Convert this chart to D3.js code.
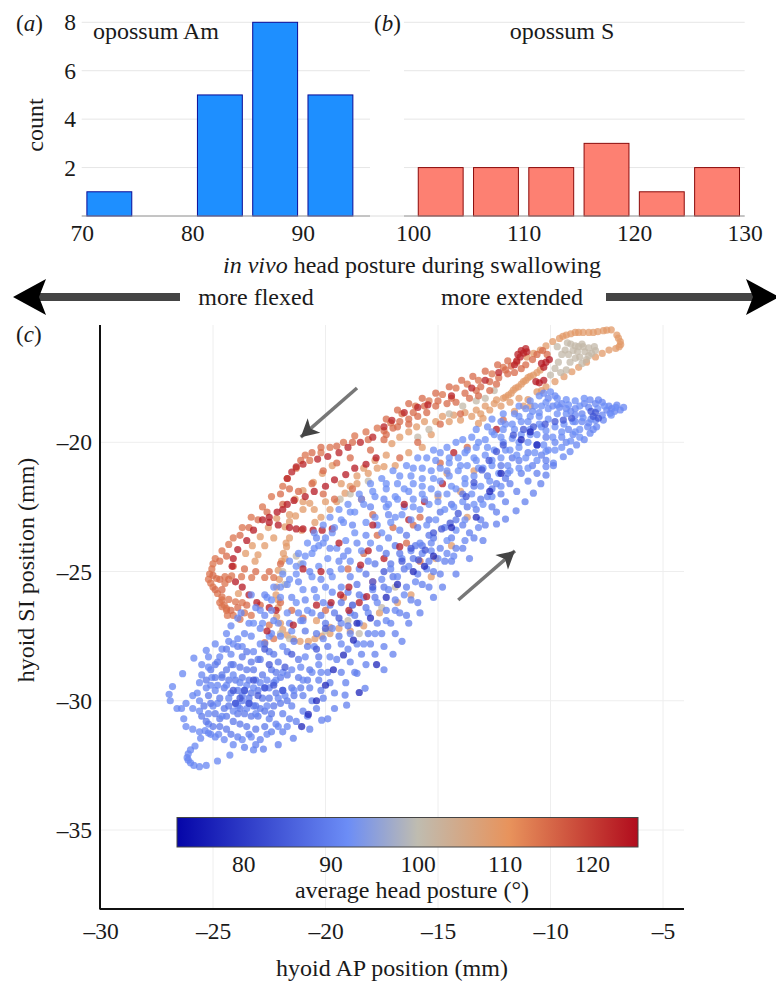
<!DOCTYPE html>
<html lang="en">
<head>
<meta charset="utf-8">
<title>Hyoid position and head posture</title>
<script src="https://d3js.org/d3.v7.min.js"></script>
<style>
  html, body { margin: 0; padding: 0; background: #fff; }
  svg { display: block; }
  text { font-family: "Liberation Serif", serif; fill: #1a1a1a; }
</style>
</head>
<body>
<svg id="vis" width="776" height="983"></svg>
<script>
// histogram data
var binsAm = [72.5, 77.5, 82.5, 87.5, 92.5];
var countsAm = [1, 0, 5, 8, 5];
var binsS = [102.5, 107.5, 112.5, 117.5, 122.5, 127.5];
var countsS = [2, 2, 2, 3, 1, 2];
var countTicks = [2, 4, 6, 8];
var amTicks = [70, 80, 90];
var sTicks = [100, 110, 120, 130];

// colour bar
var postureStops = [72.4, 92, 100, 110.5, 125.3];
var postureColors = ["#0505a8", "#6c8df6", "#bfbcb0", "#e8935c", "#b10c1d"];
var postureTicks = [80, 90, 100, 110, 120];

// hyoid traces, [AP, SI] in mm
var crimsonUpper = [[-11.1,-16.37],[-11.2,-16.55],[-11.3,-16.45],[-11.35,-16.7],[-11.45,-16.6],[-11.5,-16.85],[-11.05,-16.5],[-11.6,-17],[-15.45,-18.55],[-15.9,-18.65],[-16.5,-18.85],[-17.05,-19.15],[-17.4,-19.4],[-17.9,-19.8],[-18.45,-20],[-19,-20.2],[-19.4,-20.4],[-19.9,-20.55],[-20.35,-20.65],[-21,-20.85],[-21.3,-20.95],[-21.5,-21.15],[-21.7,-21.4],[-12.3,-17.3],[-12.9,-17.6],[-13.5,-17.9],[-14.4,-18.2]];
var crimsonInner = [[-17.75,-20.6],[-18.2,-20.85],[-18.7,-21],[-19.1,-21.25],[-19.6,-21.45],[-20,-21.7],[-20.5,-21.9],[-20.9,-22.1],[-21.4,-22.25],[-21.7,-22.4],[-21.9,-22.6],[-22.15,-22.7],[-22.5,-22.9],[-22.8,-23],[-22.5,-23.1],[-22.1,-23.2],[-21.6,-23.3],[-21.3,-23.35],[-21,-23.35],[-20.55,-23.4],[-20.15,-23.4],[-19.7,-23.35],[-23.2,-23.4],[-23.5,-23.8],[-23.9,-24.15],[-24.1,-24.5],[-24.15,-24.8],[-24,-25.4],[-23.7,-25.6],[-23.4,-25.9],[-23.05,-26.2],[-22.5,-26.4],[-22.2,-26.5],[-10.2,-16.9],[-10.05,-16.8],[-10.5,-17.7],[-10.65,-17.65],[-10.3,-17.6],[-10.4,-16.95],[-10.3,-17.1],[-14.3,-20.4],[-12.4,-19.5],[-15.6,-22.3],[-14.8,-21.6],[-16.3,-23],[-17.4,-24.5],[-17.9,-25.4]];
var coralOuter = [[-12.1,-17.1],[-12.6,-17.35],[-13.2,-17.6],[-13.7,-17.75],[-14.2,-17.9],[-14.8,-18.15],[-15.4,-18.4],[-16,-18.6],[-16.6,-18.9],[-17.1,-19.25],[-17.7,-19.45],[-18.2,-19.6],[-18.7,-19.75],[-19.2,-20],[-19.8,-20.2],[-20.2,-20.4],[-20.7,-20.7],[-20.9,-20.5],[-21.3,-21],[-21.7,-21.4],[-21.9,-21.7],[-22.4,-22.1],[-22.8,-22.5],[-23.3,-22.9],[-23.7,-23.3],[-24.1,-23.7],[-24.3,-23.95],[-24.6,-24.2],[-24.9,-24.5],[-25,-24.7],[-25.05,-24.9],[-25.15,-25.1],[-25.2,-25.3],[-25.1,-25.45],[-25,-25.6],[-24.8,-25.85],[-24.6,-26.1],[-24.5,-26.3],[-24.4,-26.5],[-24.1,-26.7],[-23.8,-26.85],[-24.84,-25.27],[-24.47,-25.2],[-24.17,-25.17],[-23.73,-25.2],[-23.28,-25.23],[-22.7,-25.23],[-22.3,-25.23],[-24.47,-25.46],[-24.6,-25.98],[-24.3,-26.08],[-24,-26.17],[-23.7,-26.2],[-24.6,-26.36],[-24.4,-26.43],[-24.36,-26.7],[-24.7,-26.2],[-23.3,-26.7],[-22.5,-27.07],[-22.3,-27.6],[-22.7,-27.75],[-23.6,-26.6]];
var coralInner = [[-11.5,-16.9],[-11.75,-17.05],[-12,-17.2],[-11.9,-17.35],[-11.6,-17.3],[-11.3,-17.15],[-11.1,-17],[-10.8,-16.8],[-10.6,-16.6],[-10.35,-16.45],[-10.15,-16.6],[-12.3,-17.5],[-12.7,-17.65],[-13.1,-17.85],[-12.4,-17.75],[-12.7,-18],[-13.2,-18.2],[-13.6,-18.3],[-14.2,-18.45],[-14.6,-18.5],[-15.1,-18.6],[-15.5,-18.85],[-15.9,-19],[-16.3,-19.1],[-16.7,-19.2],[-17,-19.45],[-17.3,-19.7],[-16.3,-19.3],[-15.9,-20],[-16.7,-20.6],[-17.4,-19.9],[-18,-20.3],[-18.9,-20.6],[-19.5,-20.8],[-20.1,-21.1],[-20.6,-21.6],[-21.2,-21.9],[-21.9,-22.4],[-20.1,-22],[-19.6,-22.2],[-18.8,-21.8],[-18.4,-22.2],[-17.9,-22.8],[-17,-23.3],[-16.4,-23.9],[-15.8,-24.6],[-14.9,-20.8],[-15.8,-22.9],[-16.1,-23.2],[-13.7,-20.2],[-12.1,-19.14],[-14,-18.9],[-14.9,-19.3],[-17.7,-23.6],[-18.3,-24.3],[-19,-24.9],[-17.3,-19.1],[-16.8,-18.75],[-16.3,-18.5],[-15.7,-18.3],[-15.1,-18.1],[-14.5,-17.85],[-13.95,-17.6],[-13.45,-17.45],[-12.9,-17.25],[-12.35,-17],[-11.9,-16.85],[-13.3,-18],[-13.8,-18.1],[-14.4,-18.3],[-15,-18.4],[-15.6,-18.6],[-16.1,-18.85],[-16.8,-19.4],[-17.4,-19.55],[-18.1,-19.9],[-18.8,-20],[-19.5,-20.15],[-20.2,-20.2],[-20.6,-20.4],[-21.1,-20.7],[-21.6,-21.8],[-22,-22],[-22.6,-22.7],[-23,-23],[-23.4,-23.3],[-23.8,-23.6],[-24.4,-24.4],[-24.7,-24.6],[-25,-25.15],[-24.9,-25.7],[-24.7,-25.3],[-24.6,-25.7],[-24.3,-25.3],[-24.2,-26.5],[-23.9,-26.4],[-23.5,-26.3],[-24.1,-24.8],[-23.6,-24.9],[-23.1,-25],[-22.5,-25],[-22,-24.7],[-22.9,-26.3],[-22,-26.2],[-21.5,-26.5],[-21,-26.8],[-20,-26.5],[-19.2,-26]];
var peach = [[-6.9,-16.1],[-6.88,-16.22],[-7.05,-15.85],[-6.98,-15.97],[-7.3,-15.65],[-7.5,-15.66],[-7.65,-15.68],[-7.9,-15.72],[-8.1,-15.75],[-8.3,-15.75],[-8.55,-15.75],[-8.75,-15.75],[-8.9,-15.75],[-9.1,-15.8],[-9.3,-15.85],[-9.45,-15.9],[-9.6,-15.98],[-9.9,-16.1],[-10.2,-16.27],[-10.45,-16.43],[-10.75,-16.56],[-11.05,-16.7],[-6.95,-16.3],[-7.1,-16.37],[-7.4,-16.43],[-7.7,-16.56],[-8,-16.7],[-8.4,-16.9],[-8.75,-17.1],[-9.05,-17.27],[-9.4,-17.46],[-9.8,-17.65],[-10.2,-17.85],[-10.6,-18.05],[-11,-18.35],[-11.2,-18.6],[-11.6,-18.8],[-12.7,-18.75],[-13.1,-18.9],[-13.5,-19],[-14,-19.14],[-14.5,-19.2],[-15.1,-19.2],[-15.6,-19.2],[-15.95,-19.4],[-16.3,-19.6],[-16.7,-19.8],[-17.05,-20.05],[-17.4,-20.94],[-17.7,-21],[-18.1,-21.2],[-18.6,-21.3],[-18.9,-21.7],[-19.13,-21.97],[-19.5,-22.3],[-19.8,-22.6],[-20.2,-22.9],[-20.47,-23.1],[-21.06,-23.4],[-21.6,-23.7],[-21.73,-24.04],[-21.8,-24.5],[-21.87,-24.3],[-22.1,-24.95],[-22.17,-25.6],[-22.1,-26.1],[-22.17,-26.75],[-21.7,-27.46],[-21.43,-27.6],[-21.13,-27.7],[-20.76,-27.7],[-20.47,-27.6],[-20.17,-27.5],[-19.8,-27.4],[-19.8,-27.16],[-19.4,-27.2],[-18.9,-27.3],[-10.46,-17.2],[-10.6,-17.3],[-10.76,-17.4],[-10.9,-17.45],[-11,-17.5],[-11.1,-17.6],[-11.2,-17.65],[-11.3,-17.75],[-11.43,-17.85],[-11.55,-17.9],[-11.65,-17.98],[-11.75,-18.1],[-11.87,-18.17],[-12,-18.25],[-12.1,-18.3],[-12.4,-18.36],[-13,-19.07],[-13.2,-19.27],[-19.7,-20.9],[-20.14,-21.2],[-20.54,-21.55],[-21,-21.87],[-21.35,-22.2],[-21,-22.3],[-20.7,-22.36],[-21,-22.6],[-21.33,-22.85],[-21.6,-22.8],[-21.6,-23.07],[-21.8,-23.27],[-22.17,-22.94],[-22.54,-23.3],[-22.9,-23.65],[-23.25,-24],[-23.55,-24.3],[-22.3,-23.7],[-22.7,-24],[-23,-24.35],[-23.13,-24.6],[-23.87,-25.85],[-20.4,-26.9],[-18.3,-27.1],[-16.8,-26.2],[-15.3,-25.2],[-16.2,-25.9],[-17.6,-26.6],[-14.4,-24],[-15.1,-24.5],[-13.7,-22.9],[-14.6,-21.2],[-14,-21.9],[-13.4,-21.1],[-15,-22.1],[-21.75,-23.9],[-21.95,-24.6],[-22.05,-25.3],[-22.2,-25.9],[-22.1,-26.4],[-22,-27],[-21.9,-27.25],[-12.2,-18.6],[-12.5,-18.5],[-12.9,-18.6],[-13.3,-18.75],[-13.8,-18.85],[-14.3,-18.95],[-14.8,-19],[-11.4,-18.3],[-11.8,-18.45],[-10.9,-18.6],[-10.4,-18],[-15.3,-19.7],[-15.7,-20.2],[-16.3,-20.4],[-16.9,-20.9],[-17.3,-20.5],[-17.8,-20.7],[-18.3,-21],[-18.6,-21.6],[-19.3,-21.6],[-20,-22.3],[-20.5,-22.6]];
var tan = [[-9.1,-16.2],[-8.9,-16.27],[-9.25,-16.15],[-8.75,-16.3],[-9.35,-16.43],[-9.5,-16.6],[-9.65,-16.9],[-9.8,-17.14],[-10,-17.4],[-9.13,-16.9],[-8.9,-16.75],[-8.7,-16.7],[-8.47,-16.5],[-8.17,-16.56],[-8.4,-16.8],[-8.6,-16.95],[-8.3,-16.35],[-8,-16.45],[-8.55,-16.3],[-9.3,-17.2],[-12.5,-18],[-12.9,-18.3],[-13.3,-18.4],[-13.9,-18.6],[-14.5,-18.9],[-15.4,-19.5],[-15.9,-19.8],[-18.1,-21.5],[-18.9,-22],[-19.35,-22.2],[-21.3,-24.4],[-21.1,-24.7],[-21.9,-25],[-21.8,-25.5],[-22,-27.4],[-21.6,-27.6],[-18.5,-27.4],[-19,-26.9],[-17.5,-26.4],[-16.9,-25.6],[-20,-27.3],[-9.7,-16.3],[-9.2,-16.6],[-8.8,-16.5],[-8.6,-16.2],[-9,-16.45],[-8.3,-16.65],[-8.05,-16.3],[-9.55,-17.3]];
var blueEnds = [[-23.2,-31.9],[-24.25,-32.1],[-24.8,-32.33],[-25.3,-32.5],[-25.6,-32.55],[-25.85,-32.5],[-26,-32.4],[-26.1,-32.3],[-26.15,-32.2],[-26.1,-32.05],[-26,-31.9],[-25.8,-31.75],[-25.55,-31.45],[-25.35,-31.15],[-25.2,-30.9],[-26.9,-30],[-26.95,-29.75],[-26.6,-30.3],[-26.4,-30.3],[-26.3,-30.7],[-26.2,-31],[-25.9,-31.1],[-25.6,-31.2],[-25.2,-31.25],[-24.75,-31.3],[-26.8,-29.45],[-26.35,-28.95],[-25.85,-28.35],[-25.3,-28.05],[-25.05,-29.1],[-24.9,-29.6],[-25.9,-29.8],[-26.2,-30.1],[-25.9,-30.3],[-25.2,-30.5],[-25,-30.2],[-25.3,-29.5],[-25.5,-28.6],[-25.2,-28.3],[-24.9,-27.8],[-24.4,-27.4],[-24.2,-27.1],[-23.9,-26.8],[-24.6,-28],[-24.3,-27.7],[-23.9,-27.6],[-23.6,-27.4],[-23.3,-27.5],[-23.75,-26.6],[-23.4,-27],[-22.9,-27.2],[-6.75,-18.65],[-7.05,-18.56],[-7.28,-18.7],[-7.5,-18.75],[-7.87,-18.36],[-8.24,-18.36],[-8.5,-18.5],[-8.9,-18.7],[-7.35,-18.88],[-7.65,-19.14],[-7.95,-19.4],[-8.24,-19.65],[-8.5,-19.9],[-8.84,-20.1],[-9.13,-20.36],[-9.43,-20.56],[-9.87,-20.8],[-10.2,-20.94],[-6.9,-18.75],[-7.15,-18.8],[-7.4,-18.6],[-7.7,-18.45],[-8,-18.5],[-8.3,-18.65],[-8.6,-18.9],[-8.9,-19.2],[-9.2,-19.5],[-9.5,-19.8],[-9.8,-20],[-10.1,-20.3],[-9.6,-18.65],[-9.9,-18.6],[-10.1,-18.3],[-10.3,-18.1],[-9.8,-18.2],[-9.5,-18.5],[-9.3,-18.7],[-9.1,-18.8],[-8.9,-18.95],[-8.6,-19.2],[-8.35,-19.4],[-8.1,-19.5],[-9,-19.7],[-9.3,-20],[-7.7,-18.95],[-8,-19.15],[-8.3,-19.25]];
var blueLower = [[-23.6,-31.8],[-23.1,-31.7],[-22.76,-31.87],[-22.1,-31.7],[-21.43,-31.45],[-20.7,-31.1],[-20.17,-30.75],[-19.9,-30.7],[-19.6,-30.3],[-19.06,-30.17],[-19.13,-29.78],[-18.24,-29.52],[-18.6,-28.94],[-17.4,-28.8],[-17,-28.2],[-16.6,-27.7],[-16.3,-27],[-15.8,-26.6],[-15.2,-26],[-14.8,-25.6],[-14.2,-25.1],[-13.6,-24.5],[-13,-23.8],[-12.4,-23.16],[-12,-22.97],[-11.53,-22.65],[-11.13,-22.3],[-10.76,-21.97],[-10.43,-21.6],[-10.2,-21.27],[-9.87,-20.9],[-23.9,-31.4],[-23.4,-31.3],[-22.9,-31.5],[-22.4,-31.2],[-21.9,-31.2],[-21.3,-30.8],[-20.8,-30.6],[-20.4,-30.3],[-20.1,-29.9],[-19.6,-29.7],[-19.1,-29.3],[-18.7,-28.9],[-18.2,-28.6],[-17.8,-28.2],[-17.4,-27.9],[-16.9,-27.4],[-16.4,-26.7],[-15.9,-26.2],[-15.4,-25.6],[-14.9,-25.1],[-14.4,-24.6],[-13.9,-24.1],[-13.4,-23.7],[-12.9,-23.2],[-12.4,-22.7],[-12,-22.3],[-11.5,-21.9],[-11,-21.5],[-10.6,-21.2],[-10.2,-20.7],[-21.6,-30.7],[-21,-30.4],[-20.6,-30],[-20.2,-29.6],[-19.8,-29.3],[-19.3,-28.9],[-18.9,-28.5],[-18.4,-28.2],[-18,-27.8],[-17.5,-27.4],[-17.1,-27],[-16.7,-26.6],[-16.2,-26.1],[-15.7,-25.5],[-15.2,-25],[-14.7,-24.6],[-14.2,-24.1],[-13.6,-23.5],[-13.1,-23],[-12.6,-22.5],[-12.2,-22],[-11.8,-21.6],[-11.3,-21.2],[-10.8,-20.9],[-10.4,-20.5],[-22.2,-30.9],[-22.5,-30.7],[-21.9,-30.5],[-21.5,-30.2],[-21,-29.8],[-20.7,-29.5],[-20.3,-29.2],[-19.9,-28.9],[-19.5,-28.4],[-19,-28],[-18.6,-27.8],[-18.1,-27.4],[-17.7,-27],[-17.3,-26.5],[-16.9,-26.1],[-16.4,-25.6],[-15.9,-25.1],[-15.4,-24.6],[-14.9,-24.1],[-14.4,-23.7],[-13.9,-23.2],[-13.3,-22.6],[-12.8,-22.1],[-12.4,-21.6],[-11.9,-21.2],[-11.4,-20.7],[-11,-20.4],[-10.6,-20.1],[-10.2,-19.8]];
var blueUpper = [[-22.9,-26.5],[-22.6,-26],[-22.3,-25.6],[-21.9,-25.1],[-21.6,-24.6],[-21.2,-24.3],[-20.8,-23.9],[-20.5,-23.5],[-20.1,-23.2],[-19.8,-22.9],[-19.4,-22.6],[-19,-22.4],[-18.5,-22],[-18,-21.6],[-17.5,-21.4],[-17,-21.1],[-16.4,-20.9],[-15.9,-20.6],[-15.2,-20.3],[-14.6,-20.2],[-13.9,-19.9],[-13.3,-19.5],[-12.6,-19.1],[-12.1,-18.9],[-11.4,-18.6],[-10.9,-18.4],[-10.5,-18.2],[-23.2,-27],[-22.8,-27],[-22.4,-26.5],[-22,-26],[-21.7,-25.5],[-21.3,-25.1],[-21,-24.7],[-20.6,-24.3],[-20.3,-24],[-20,-23.7],[-19.6,-23.3],[-19.2,-23.1],[-18.7,-22.7],[-18.3,-22.4],[-17.8,-22.1],[-17.3,-21.8],[-16.8,-21.6],[-16.2,-21.3],[-15.7,-21],[-15.1,-20.7],[-14.5,-20.6],[-13.8,-20.4],[-13.2,-20],[-12.6,-19.6],[-12,-19.3],[-11.4,-19],[-10.8,-18.8],[-10.4,-18.6],[-22.5,-27.5],[-22.1,-27],[-21.7,-26.6],[-21.3,-26.2],[-21,-25.7],[-20.6,-25.2],[-20.3,-24.8],[-19.9,-24.5],[-19.5,-24.1],[-19.1,-23.8],[-18.7,-23.5],[-18.2,-23.1],[-17.8,-22.9],[-17.3,-22.5],[-16.8,-22.2],[-16.3,-21.9],[-15.7,-21.7],[-15.2,-21.4],[-14.6,-21.1],[-14,-20.9],[-13.4,-20.6],[-12.8,-20.2],[-12.2,-19.8],[-11.6,-19.5],[-11,-19.2],[-10.5,-19],[-21.9,-27.9],[-21.5,-27.3],[-21.1,-26.9],[-20.8,-26.5],[-20.4,-26],[-20,-25.6],[-19.7,-25.2],[-19.3,-24.9],[-18.9,-24.6],[-18.4,-24.2],[-18,-23.9],[-17.5,-23.5],[-17.1,-23.1],[-16.6,-22.8],[-16.1,-22.5],[-15.6,-22.2],[-15,-22],[-14.4,-21.7],[-13.8,-21.4],[-13.2,-21],[-12.6,-20.7],[-12,-20.3],[-11.4,-20],[-10.9,-19.7],[-10.4,-19.4]];
var blueMiddle = [[-21.2,-28.4],[-20.8,-27.9],[-20.4,-27.4],[-20,-27],[-19.6,-26.6],[-19.3,-26.2],[-19,-25.8],[-18.6,-25.5],[-18.2,-25.1],[-17.8,-24.7],[-17.3,-24.3],[-16.9,-24],[-16.4,-23.6],[-15.9,-23.3],[-15.4,-23],[-14.9,-22.7],[-14.4,-22.4],[-13.9,-22],[-13.4,-21.7],[-12.8,-21.3],[-12.2,-20.9],[-11.7,-20.6],[-20.7,-28.8],[-20.3,-28.3],[-19.9,-27.9],[-19.4,-27.5],[-19,-27.1],[-18.7,-26.7],[-18.2,-26.4],[-17.8,-26],[-17.4,-25.6],[-17,-25.2],[-16.5,-24.9],[-16.1,-24.5],[-15.7,-24],[-15.2,-23.7],[-14.7,-23.3],[-14.2,-23],[-13.7,-22.5],[-13.1,-22.2],[-12.6,-21.8],[-12,-21.4],[-18.5,-25.9],[-17.9,-25.4],[-17.1,-24.7],[-16.7,-24.3],[-16,-24],[-15.4,-23.6],[-19.8,-26.3],[-20.2,-26.7],[-20.9,-27.3],[-21.4,-27.7],[-21.7,-28.1],[-22.1,-28.5],[-22.5,-28.1],[-22.9,-28.4],[-23.3,-28.5],[-23.7,-28.3],[-24.2,-28.6],[-24.6,-29],[-24.8,-28.5]];
var blueCloud = [[-25,-31],[-24.7,-31],[-24.4,-31.1],[-24.2,-31.3],[-24.7,-30.7],[-24.9,-30.5],[-25.1,-30.1],[-24.4,-30.6],[-24.1,-30.8],[-23.8,-30.9],[-23.5,-31],[-23.1,-31.1],[-22.7,-31],[-22.4,-30.5],[-23.9,-30.5],[-23.6,-30.5],[-23.3,-30.6],[-23,-30.6],[-22.7,-30.4],[-22.3,-30.2],[-22,-30.1],[-21.7,-30],[-21.4,-29.8],[-21.1,-29.5],[-20.8,-29.2],[-24.3,-30.2],[-24,-30.1],[-23.7,-30],[-23.4,-30.1],[-23.1,-30.2],[-22.8,-29.9],[-22.5,-29.9],[-22.2,-29.7],[-21.9,-29.6],[-21.5,-29.5],[-21.2,-29.1],[-24.7,-29.9],[-24.5,-29.5],[-24.2,-29.7],[-23.9,-29.6],[-23.6,-29.6],[-23.3,-29.7],[-23,-29.6],[-22.7,-29.5],[-22.3,-29.3],[-22,-29.1],[-21.7,-29],[-24.9,-29.1],[-24.6,-29.1],[-24.3,-29.2],[-24,-29.2],[-23.7,-29.1],[-23.4,-29.2],[-23.1,-29.2],[-22.8,-29],[-22.4,-28.8],[-25.2,-29.8],[-25.3,-29.2],[-25.1,-28.8],[-24.9,-28.6],[-24.4,-28.8],[-24.1,-28.6],[-23.8,-28.7],[-23.5,-28.8],[-23.2,-28.8],[-25.4,-30.2],[-25.5,-30.6],[-25.3,-30.8],[-24.5,-30.3],[-23.2,-30.2],[-22.9,-30.3],[-23.8,-30.3],[-23.4,-29.9],[-23.7,-29.8],[-22.5,-29.5],[-22.2,-28.9],[-23,-28.4],[-23.5,-28.1],[-23.9,-27.9],[-24.4,-28],[-22.7,-27.8],[-22.3,-28.2]];
var blueRidge = [[-17.2,-22.4],[-16.9,-22.1],[-16.5,-21.8],[-16.1,-21.6],[-15.7,-21.4],[-15.3,-21.1],[-14.9,-21],[-14.5,-20.8],[-14.1,-20.6],[-13.7,-20.3],[-13.3,-20.2],[-12.9,-19.9],[-12.5,-19.7],[-12.1,-19.5],[-11.7,-19.3],[-11.3,-19.2],[-10.9,-19],[-10.5,-18.85],[-10.1,-18.7],[-9.7,-18.55],[-9.3,-18.35],[-8.9,-18.4],[-8.5,-18.3],[-16.9,-22.9],[-16.5,-22.5],[-16.1,-22.2],[-15.7,-22],[-15.3,-21.8],[-14.9,-21.5],[-14.5,-21.3],[-14.1,-21.1],[-13.7,-20.9],[-13.3,-20.7],[-12.9,-20.5],[-12.5,-20.3],[-12.1,-20],[-11.7,-19.85],[-11.3,-19.7],[-10.9,-19.5],[-10.5,-19.3],[-10.1,-19.1],[-9.7,-18.9],[-9.3,-18.9],[-16.2,-23],[-15.8,-22.6],[-15.4,-22.4],[-15,-22.3],[-14.6,-22],[-14.2,-21.8],[-13.8,-21.6],[-13.4,-21.3],[-13,-21],[-12.6,-20.9],[-12.2,-20.6],[-11.8,-20.3],[-11.4,-20.2],[-11,-20],[-10.6,-19.7],[-10.2,-19.55],[-9.8,-19.4],[-9.4,-19.3],[-9,-19.2],[-8.7,-19.5],[-15.5,-23.2],[-15.1,-23],[-14.7,-22.6],[-14.3,-22.5],[-13.9,-22.3],[-13.5,-22],[-13.1,-21.7],[-12.7,-21.5],[-12.3,-21.2],[-11.9,-20.9],[-11.5,-20.5],[-11.1,-20.6],[-10.7,-20.4],[-10.3,-20.1],[-9.9,-19.8],[-9.5,-19.6],[-9.1,-19.95],[-8.7,-19.8],[-14.6,-23.8],[-14.2,-23.4],[-13.8,-23],[-13.4,-22.4],[-13,-22.4],[-12.6,-22.1],[-12.2,-21.7],[-11.8,-21.1],[-11.4,-21],[-11,-21],[-10.6,-20.7],[-10.2,-20.35],[-9.8,-20.3],[-9.5,-20.2],[-8.9,-19.6],[-8.55,-19.05],[-8.2,-19.1],[-7.9,-18.7],[-7.6,-18.6],[-7.3,-18.95],[-7.1,-18.65],[-8.7,-18.6],[-9.2,-18.55],[-9.7,-18.3],[-10,-18.05],[-10.2,-18.45],[-10.7,-18.6],[-11.1,-18.7],[-11.6,-18.9],[-12.2,-19.2],[-12.8,-19.4],[-13.5,-19.8],[-14.2,-20],[-14.9,-20.4],[-15.5,-20.6],[-16.1,-21],[-16.7,-21.3],[-17.3,-21.6],[-17.9,-21.9],[-18.4,-22.2],[-18.9,-22.7],[-19.3,-23],[-19.7,-23.5],[-20.1,-23.9],[-20.5,-24.1],[-20.9,-24.4],[-21.3,-24.8],[-21.6,-25.3],[-22,-25.6],[-22.4,-26.1]];
var blueFill = [[-25.1,-31.3],[-24.9,-31.4],[-24.5,-31.5],[-24.1,-31.7],[-23.7,-31.5],[-23.3,-31.4],[-22.6,-31.3],[-22.1,-31],[-21.7,-31],[-24.8,-30.1],[-24.6,-30.6],[-24.3,-29.9],[-24.1,-30.4],[-23.9,-30.2],[-23.5,-30.3],[-23.1,-30.5],[-22.6,-30.2],[-22.1,-29.9],[-21.8,-29.8],[-21.4,-29.6],[-21,-29.2],[-20.6,-28.9],[-20.3,-28.6],[-25.1,-29.4],[-24.8,-29.4],[-24.4,-29.4],[-24.1,-29],[-23.8,-29.3],[-23.5,-29.4],[-23.2,-29.5],[-22.9,-29.3],[-22.6,-29.2],[-22.2,-29.2],[-21.9,-28.9],[-21.5,-28.8],[-21.1,-28.7],[-20.9,-28.3],[-20.5,-27.9],[-20.1,-27.6],[-19.7,-27.2],[-19.3,-27],[-25.5,-29],[-25.6,-29.3],[-25.7,-29.7],[-25.6,-30],[-25.6,-30.4],[-25.2,-28.7],[-24.7,-28.3],[-24.2,-28.2],[-23.7,-27.9],[-23.2,-28.1],[-22.9,-27.8],[-22.4,-27.4],[-22,-27.5],[-21.6,-27],[-21.2,-26.6],[-20.9,-26.1],[-20.5,-25.7],[-20.2,-25.3],[-19.8,-25],[-19.4,-24.6],[-19,-24.2],[-18.6,-23.9],[-18.2,-23.6],[-17.7,-23.2],[-17.2,-22.8],[-16.7,-23.4],[-17.2,-23.7],[-17.6,-24.1],[-18.1,-24.6],[-18.5,-24.9],[-18.9,-25.2],[-19.3,-25.6],[-19.7,-25.8],[-20.1,-26.2],[-20.6,-26.6],[-21,-26.9],[-19.2,-24.4],[-19.8,-24.1],[-20.4,-23.7],[-18.8,-23.2],[-18,-22.5],[-17.4,-22.2],[-20.7,-25],[-21.2,-25.4],[-21.5,-26],[-22.3,-26.9],[-22.7,-26.7],[-23.1,-26.4],[-23.3,-25.9],[-22.7,-25.9],[-24.1,-27.8],[-18.9,-26.6],[-18.3,-26],[-17.9,-25.7],[-17.5,-25.3],[-17.1,-24.9],[-16.6,-24.5],[-16.2,-24.2],[-15.8,-23.9],[-15.3,-23.9],[-15.7,-24.3],[-16.3,-24.8],[-16.8,-25.2],[-17.2,-25.7],[-17.7,-26.2],[-18.1,-26.6],[-18.5,-27],[-18.9,-27.4],[-19.3,-27.8],[-19.8,-28.3],[-20.2,-28.9],[-15.3,-24.2],[-15,-24.5],[-14.6,-24.3],[-15.5,-24.9],[-16,-25.4],[-16.5,-25.9],[-16.9,-26.5],[-17.3,-26.9],[-17.8,-27.4],[-18.3,-27.8],[-13.8,-23.8],[-14.3,-24.4],[-13.2,-23.3]];
var blueDark = [[-24,-30.1],[-23.8,-29.9],[-23.6,-29.6],[-23.4,-30.1],[-23,-29.8],[-22.7,-29.5],[-22.3,-29.4],[-21.9,-29.6],[-24.1,-29.6],[-23.2,-29.2],[-22.5,-28.6],[-22.7,-28],[-21.8,-28.7],[-21.5,-28.2],[-20.4,-28],[-20,-27.2],[-19.4,-26.8],[-18.8,-26.3],[-17.9,-25.6],[-17.4,-25],[-16.6,-24.6],[-16.2,-24.1],[-15.87,-24.55],[-15.57,-24.17],[-15.2,-23.5],[-14.84,-23.35],[-14.46,-23.13],[-14.1,-22.75],[-13.75,-22.1],[-13.4,-21.56],[-13.05,-21.07],[-12.73,-20.7],[-12.4,-20.36],[-12.1,-20.1],[-11.65,-19.72],[-11.2,-19.5],[-10.76,-19.4],[-10.24,-19.3],[-9.8,-19.2],[-9.43,-19.14],[-9.06,-19.07],[-8.1,-19],[-7.87,-19.07],[-8.2,-18.8],[-8,-18.85]];
var blueDeep = [[-19.2,-28.23],[-19.65,-28.8],[-20,-29.4],[-20.4,-30],[-20.76,-30.53],[-21.06,-31],[-18.5,-29.68],[-18.76,-27.65],[-17.73,-28.6],[-18.6,-27],[-18,-26.8],[-17.3,-26],[-16.8,-25.5],[-16.1,-25],[-15.6,-24.8],[-15.2,-24.4],[-14.4,-23.3],[-13.3,-22.9],[-12.7,-21.9],[-12.2,-21.2],[-11.3,-19.9],[-10.6,-20.1],[-10.9,-19.6]];
var warmTop = [[-21.43,-27.07],[-20.4,-26.3],[-19.75,-26.2],[-19.33,-25.9],[-18.96,-25.6],[-18.44,-24.75],[-18.1,-24.2],[-16.7,-24.04],[-18.17,-25.97],[-18.5,-26.2],[-18.96,-26.5],[-20.2,-25],[-21,-24.9],[-19.4,-23.9],[-17.9,-23.2],[-16.5,-22.4],[-22.6,-27.3]];

// draw order follows the picture, warm traces sit under the blue ones
var traces = [peach, tan, coralOuter, coralInner, crimsonUpper, crimsonInner, blueEnds, blueLower, blueUpper, blueMiddle, blueCloud, blueRidge, blueFill, warmTop, blueDark, blueDeep];
var tracePostures = [109, 101, 114, 115, 123, 124, 91, 90, 92, 89, 89, 92, 91, 124, 84, 77];

var svg = d3.select("#vis");
var tickSize = 23.5;
var textSize = 24;

function label(x, y, txt, size, anchor) {
  return svg.append("text").attr("x", x).attr("y", y).attr("text-anchor", anchor || "middle")
    .style("font-size", size + "px").text(txt);
}

function panelTag(x, y, letter) {
  var t = label(x, y, "", 23, "start");
  t.append("tspan").text("(");
  t.append("tspan").style("font-style", "italic").text(letter);
  t.append("tspan").text(")");
}

// histograms
var yCount = d3.scaleLinear().domain([0, 8]).range([216, 22.3]);

function histogram(bins, counts, ticks, xDomain, xRange, fill, edge) {
  var x = d3.scaleLinear().domain(xDomain).range(xRange);
  svg.append("g").selectAll("line").data(countTicks).enter().append("line")
    .attr("x1", xRange[0]).attr("x2", xRange[1])
    .attr("y1", yCount).attr("y2", yCount)
    .attr("stroke", "#e6e6e6").attr("stroke-width", 1);
  svg.append("g").selectAll("rect").data(bins).enter().append("rect")
    .attr("x", function(d) { return x(d - 2.03); })
    .attr("width", x(4.06) - x(0))
    .attr("y", function(d, i) { return yCount(counts[i]); })
    .attr("height", function(d, i) { return yCount(0) - yCount(counts[i]); })
    .attr("fill", fill).attr("stroke", edge).attr("stroke-width", 1);
  svg.append("line").attr("x1", xRange[0]).attr("x2", xRange[1]).attr("y1", 216).attr("y2", 216)
    .attr("stroke", "#8a8a8a").attr("stroke-width", 1);
  var axis = svg.append("g").attr("transform", "translate(0,216)")
    .call(d3.axisBottom(x).tickValues(ticks).tickSize(0).tickPadding(8).tickFormat(d3.format("d")));
  axis.select(".domain").remove();
  axis.selectAll("text").style("font-size", tickSize + "px").attr("fill", "#1a1a1a");
}

histogram(binsAm, countsAm, amTicks, [70, 96.08], [81.7, 370], "#1e8fff", "#0b0b96");
histogram(binsS, countsS, sTicks, [99.18, 130], [404, 744.7], "#fd8072", "#8b0a0a");
svg.append("line").attr("x1", 370).attr("x2", 404).attr("y1", 216).attr("y2", 216).attr("stroke", "#dcdcdc");

var yAxisCount = svg.append("g").attr("transform", "translate(76,0)")
  .call(d3.axisLeft(yCount).tickValues(countTicks).tickSize(0).tickPadding(0).tickFormat(d3.format("d")));
yAxisCount.select(".domain").remove();
yAxisCount.selectAll("text").style("font-size", tickSize + "px").attr("fill", "#1a1a1a");

panelTag(16, 31, "a");
panelTag(374, 31, "b");
panelTag(16, 342, "c");

label(156, 39, "opossum Am", textSize);
label(562, 39, "opossum S", textSize);
label(43, 125, "count", textSize).attr("transform", "rotate(-90 43 125)");

var xTitle = label(412, 273, "", textSize);
xTitle.append("tspan").style("font-style", "italic").text("in vivo");
xTitle.append("tspan").text(" head posture during swallowing");

// direction arrows
var defs = svg.append("defs");
function bigArrow(x1, x2, dir) {
  svg.append("line").attr("x1", x1).attr("x2", x2).attr("y1", 297).attr("y2", 297)
    .attr("stroke", "#444").attr("stroke-width", 8);
  var tip = x2 + dir * 26;
  svg.append("path")
    .attr("d", d3.line()([[tip, 297], [tip - dir * 33, 279], [tip - dir * 26, 297], [tip - dir * 33, 315]]) + "Z")
    .attr("fill", "#000");
}
bigArrow(180, 39, -1);
bigArrow(606, 753, 1);
label(256, 305, "more flexed", textSize);
label(512, 305, "more extended", textSize);

// scatter panel
var x = d3.scaleLinear().domain([-30, -5]).range([100.5, 663]);
var y = d3.scaleLinear().domain([-20, -35]).range([442.3, 830]);
var xTicks = [-30, -25, -20, -15, -10, -5];
var yTicks = [-20, -25, -30, -35];
var fmt = function(d) { return "\u2013" + Math.abs(d); };

svg.append("g").selectAll("line").data(xTicks.slice(1)).enter().append("line")
  .attr("x1", x).attr("x2", x).attr("y1", 325).attr("y2", 909)
  .attr("stroke", "#eeeeee");
svg.append("g").selectAll("line").data(yTicks).enter().append("line")
  .attr("x1", 100).attr("x2", 684).attr("y1", y).attr("y2", y)
  .attr("stroke", "#eeeeee");

var color = d3.scaleLinear().domain(postureStops).range(postureColors);

var dots = [];
traces.forEach(function(trace, i) {
  trace.forEach(function(p) { dots.push({ ap: p[0], si: p[1], posture: tracePostures[i] }); });
});

svg.append("g").selectAll("circle").data(dots).enter().append("circle")
  .attr("cx", function(d) { return x(d.ap); })
  .attr("cy", function(d) { return y(d.si); })
  .attr("r", 3.6)
  .attr("fill", function(d) { return color(d.posture); })
  .attr("fill-opacity", 0.75);

// axes lines
svg.append("line").attr("x1", 100).attr("x2", 100).attr("y1", 325).attr("y2", 909.5).attr("stroke", "#111").attr("stroke-width", 2);
svg.append("line").attr("x1", 100).attr("x2", 684).attr("y1", 909).attr("y2", 909).attr("stroke", "#111").attr("stroke-width", 2);

var xAxis = svg.append("g").attr("transform", "translate(0,909)")
  .call(d3.axisBottom(x).tickValues(xTicks).tickSize(0).tickPadding(13).tickFormat(fmt));
xAxis.select(".domain").remove();
xAxis.selectAll("text").style("font-size", tickSize + "px").attr("fill", "#1a1a1a");

var yAxis = svg.append("g").attr("transform", "translate(92,0)")
  .call(d3.axisLeft(y).tickValues(yTicks).tickSize(0).tickPadding(0).tickFormat(fmt));
yAxis.select(".domain").remove();
yAxis.selectAll("text").style("font-size", tickSize + "px").attr("fill", "#1a1a1a");

label(392, 976, "hyoid AP position (mm)", textSize);
label(34, 570, "hyoid SI position (mm)", textSize).attr("transform", "rotate(-90 34 570)");

// grey travel arrows
function travelArrow(from, to) {
  svg.append("line").attr("x1", x(from[0])).attr("y1", y(from[1])).attr("x2", x(to[0])).attr("y2", y(to[1]))
    .attr("stroke", "#777").attr("stroke-width", 3.5);
  var px = x(to[0]), py = y(to[1]);
  var a = Math.atan2(y(from[1]) - py, x(from[0]) - px);
  var pt = function(r, t) { return [px + r * Math.cos(a + t), py + r * Math.sin(a + t)]; };
  svg.append("path").attr("d", d3.line()([[px, py], pt(20, 0.5), pt(13, 0), pt(20, -0.5)]) + "Z").attr("fill", "#444");
}
travelArrow([-18.6, -17.9], [-21.1, -19.8]);
travelArrow([-14.1, -26.1], [-11.58, -24.2]);

// colour bar
var barScale = d3.scaleLinear().domain([72.4, 125.3]).range([177, 638]);
var grad = defs.append("linearGradient").attr("id", "postureGrad");
grad.selectAll("stop").data(postureStops).enter().append("stop")
  .attr("offset", function(d) { return (d - 72.4) / (125.3 - 72.4); })
  .attr("stop-color", function(d, i) { return postureColors[i]; });
svg.append("rect").attr("x", 177).attr("y", 817.5).attr("width", 461).attr("height", 29.5)
  .attr("fill", "url(#postureGrad)").attr("stroke", "#444").attr("stroke-width", 1);
var barAxis = svg.append("g").attr("transform", "translate(0,847)")
  .call(d3.axisBottom(barScale).tickValues(postureTicks).tickSize(0).tickPadding(8).tickFormat(d3.format("d")));
barAxis.select(".domain").remove();
barAxis.selectAll("text").style("font-size", tickSize + "px").attr("fill", "#1a1a1a");
label(412, 898, "average head posture (\u00b0)", textSize);
</script>
</body>
</html>
